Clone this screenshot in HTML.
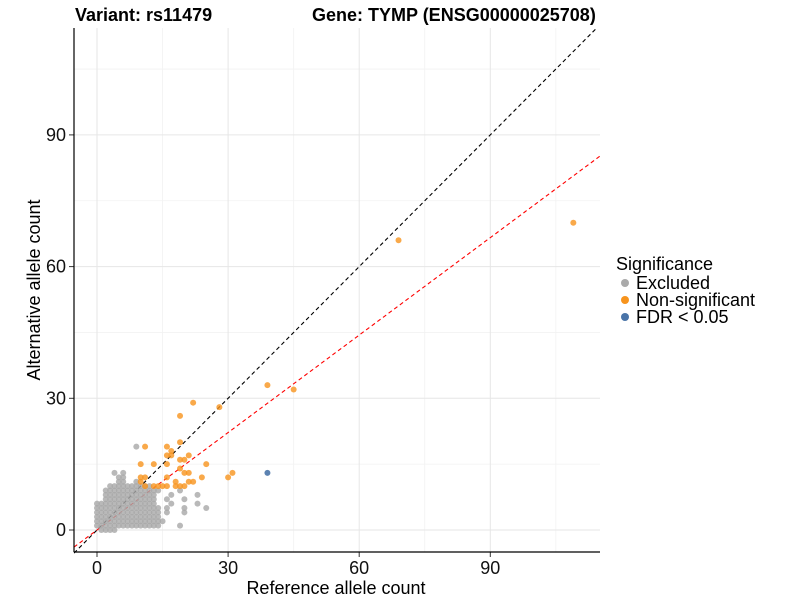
<!DOCTYPE html>
<html><head><meta charset="utf-8"><style>
body{margin:0;background:#fff;}
svg text{font-family:"Liberation Sans",Arial,sans-serif;}
</style></head><body>
<svg id="chart" width="800" height="600">
<text x="75" y="21" font-size="18" font-weight="bold">Variant: rs11479</text>
<text x="312" y="21" font-size="18" font-weight="bold">Gene: TYMP (ENSG00000025708)</text>
<g id="grid"></g><g id="lines"></g><g id="pts"></g><g id="axes"></g>
<text x="336" y="594" font-size="18" text-anchor="middle">Reference allele count</text>
<text transform="translate(40,290) rotate(-90)" font-size="18" text-anchor="middle">Alternative allele count</text>
<g>
<text x="616" y="270" font-size="18">Significance</text>
<circle cx="625" cy="283" r="4" fill="#aaa"/>
<text x="636" y="289" font-size="18">Excluded</text>
<circle cx="625" cy="300" r="4" fill="#f7941d"/>
<text x="636" y="306" font-size="18">Non-significant</text>
<circle cx="625" cy="317" r="4" fill="#4a74a8"/>
<text x="636" y="323" font-size="18">FDR &lt; 0.05</text>
</g>
</svg>
<script>
const xTicks=[0,30,60,90];
const yTicks=[0,30,60,90];
const minorTicks=[15,45,75,105];
const greyRowY=[0,1,2,3,4,5,6,7,8,9,10,11,12,13,19];
const greyRowX=[[1,2,3,4],[0,1,2,3,4,5,6,7,8,9,10,11,12,13,14,19],[0,1,2,3,4,5,6,7,8,9,10,11,12,13,14,15],[0,1,2,3,4,5,6,7,8,9,10,11,12,13,14],[0,1,2,3,4,5,6,7,8,9,10,11,12,13,14,16,20],[0,1,2,3,4,5,6,7,8,9,10,11,12,13,14,16,20,25],[0,1,2,3,4,5,6,7,8,9,10,11,12,13,17,23],[2,3,4,5,6,7,8,9,10,11,12,13,16,20],[2,3,4,5,6,7,8,9,10,11,12,13,17,23],[2,3,4,5,6,7,8,9,10,11,12,13,14,19],[3,4,5,6,7,8,9,10,11,12],[5,6,9],[5,6],[4,6],[9]];
const orangeX=[69,109,39,45,22,28,19,11,16,17,19,16,17,19,20,21,10,13,16,19,25,20,21,10,11,16,18,21,22,24,30,31,11,10,13,14,15,16,18,19,20];
const orangeY=[66,70,33,32,29,28,26,19,19,18,20,17,17,16,16,17,15,15,15,14,15,13,13,12,12,12,11,11,11,12,12,13,10,11,10,10,10,10,10,10,10];
const blueX=[39];
const blueY=[13];
const redSlope=0.74;
const X0=97,XS=4.37,Y0=530,YS=4.39,L=74,R=600,T=28,B=552;
const sx=v=>X0+v*XS, sy=v=>Y0-v*YS;
const NS="http://www.w3.org/2000/svg";
function mk(p,tag,a){const e=document.createElementNS(NS,tag);for(const k in a)e.setAttribute(k,a[k]);p.appendChild(e);return e;}
const grid=document.getElementById('grid'),lines=document.getElementById('lines'),pts=document.getElementById('pts'),axes=document.getElementById('axes');
minorTicks.forEach(v=>{
 let e=mk(grid,'line',{x1:sx(v),x2:sx(v),y1:T,y2:B,stroke:'#f2f2f2','stroke-width':0.8});
 
 
 e=mk(grid,'line',{x1:L,x2:R,y1:sy(v),y2:sy(v),stroke:'#f2f2f2','stroke-width':0.8});
 
 
});
xTicks.forEach(v=>{
 let e=mk(grid,'line',{x1:sx(v),x2:sx(v),y1:T,y2:B,stroke:'#e6e6e6','stroke-width':1});
 
 
 e=mk(axes,'line',{x1:sx(v),x2:sx(v),y1:B,y2:B+5,stroke:'#333'});
 
 
 e=mk(axes,'text',{x:sx(v),y:B+22,'font-size':18,'text-anchor':'middle',fill:'#111'});e.textContent=v;
 
 
});
yTicks.forEach(v=>{
 let e=mk(grid,'line',{x1:L,x2:R,y1:sy(v),y2:sy(v),stroke:'#e6e6e6','stroke-width':1});
 
 
 e=mk(axes,'line',{x1:L-5,x2:L,y1:sy(v),y2:sy(v),stroke:'#333'});
 
 
 e=mk(axes,'text',{x:L-8,y:sy(v)+6,'font-size':18,'text-anchor':'end',fill:'#111'});e.textContent=v;
 
 
});
let a=mk(axes,'line',{x1:L,x2:L,y1:T,y2:B,stroke:'#000','stroke-width':1.2});


a=mk(axes,'line',{x1:L,x2:R,y1:B,y2:B,stroke:'#000','stroke-width':1.2});


const xmin=(L-X0)/XS,xmax=(R-X0)/XS;
const ymaxv=(Y0-T)/YS;
let d=mk(lines,'line',{x1:sx(xmin),y1:sy(xmin),x2:sx(Math.min(xmax,ymaxv)),y2:sy(Math.min(xmax,ymaxv)),stroke:'#000','stroke-dasharray':'4,3','stroke-width':1.1});


d=mk(lines,'line',{x1:sx(xmin),y1:sy(xmin*redSlope),x2:sx(xmax),y2:sy(xmax*redSlope),stroke:'#f00','stroke-dasharray':'4,3','stroke-width':1.1});


greyRowY.forEach((y,i)=>greyRowX[i].forEach(x=>{
 const c=mk(pts,'circle',{cx:sx(x),cy:sy(y),r:3,fill:'#a8a8a8','fill-opacity':0.8});
 
 
}));
orangeX.forEach((x,i)=>{
 const c=mk(pts,'circle',{cx:sx(x),cy:sy(orangeY[i]),r:3,fill:'#f7941d','fill-opacity':0.8});
 
 
});
blueX.forEach((x,i)=>{
 const c=mk(pts,'circle',{cx:sx(x),cy:sy(blueY[i]),r:3,fill:'#4a74a8','fill-opacity':0.9});
 
 
});
</script>
</body></html>
